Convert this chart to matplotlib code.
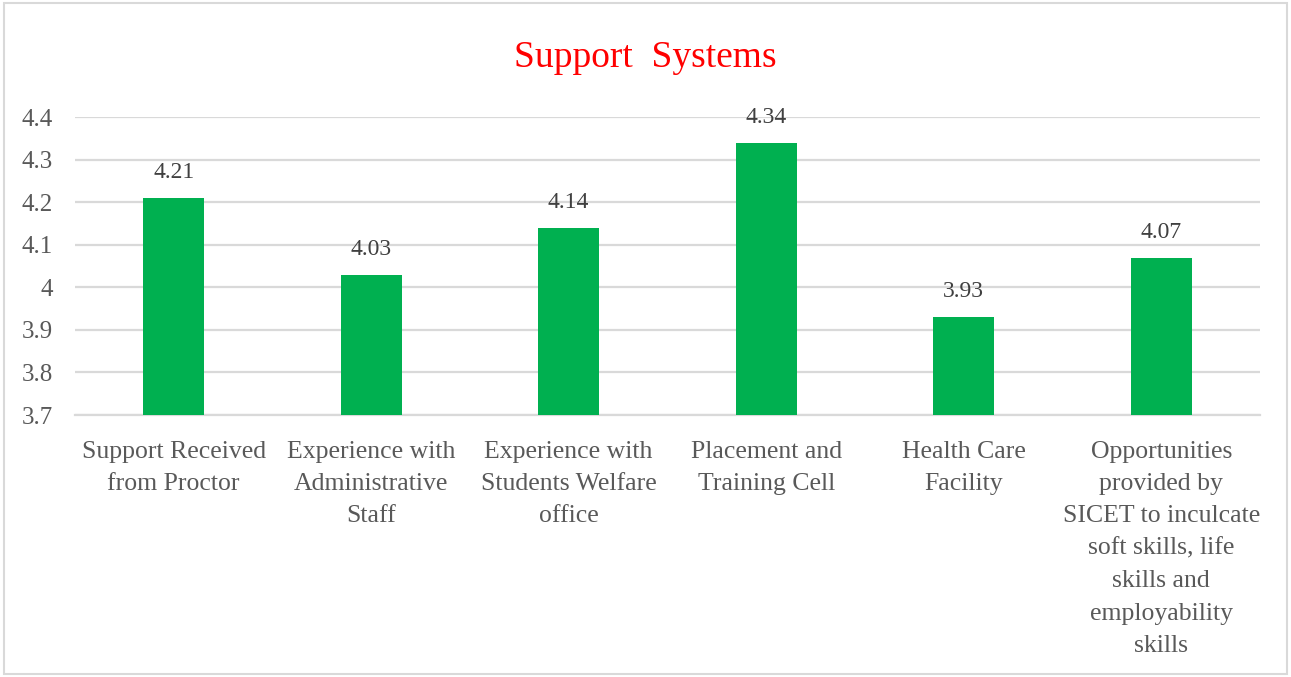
import matplotlib.pyplot as plt
from matplotlib.patches import Rectangle

# --- data ---
categories = [
    "Support Received\nfrom Proctor",
    "Experience with\nAdministrative\nStaff",
    "Experience with\nStudents Welfare\noffice",
    "Placement and\nTraining Cell",
    "Health Care\nFacility",
    "Opportunities\nprovided by\nSICET to inculcate\nsoft skills, life\nskills and\nemployability\nskills",
]
values = [4.21, 4.03, 4.14, 4.34, 3.93, 4.07]
yticks = [3.7, 3.8, 3.9, 4.0, 4.1, 4.2, 4.3, 4.4]
ytick_labels = ["3.7", "3.8", "3.9", "4", "4.1", "4.2", "4.3", "4.4"]

plt.rcParams["font.family"] = ["Liberation Serif", "DejaVu Serif"]

fig = plt.figure(figsize=(12.91, 6.77), dpi=100)
ax = fig.add_axes([0.058, 0.387, 0.918, 0.44])

x = list(range(len(values)))
ax.bar(x, values, width=0.31, color="#00b050", zorder=3)

for xi, v in zip(x, values):
    ax.text(xi, v + 0.035, f"{v:.2f}", ha="center", va="bottom",
            fontsize=17, color="#404040")

ax.set_ylim(3.7, 4.4)
ax.set_xlim(-0.5, len(values) - 0.5)
ax.set_yticks(yticks)
ax.set_yticklabels(ytick_labels, fontsize=18, color="#595959")
ax.yaxis.grid(True, color="#d9d9d9", linewidth=1.6, zorder=0)
ax.tick_params(axis="y", length=0, pad=16)

ax.set_xticks(x)
ax.set_xticklabels(categories, fontsize=18.5, color="#595959", linespacing=1.61)
ax.tick_params(axis="x", length=0, pad=18.5)

for side in ["top", "right", "left"]:
    ax.spines[side].set_visible(False)
ax.spines["bottom"].set_color("#d9d9d9")
ax.spines["bottom"].set_linewidth(1.6)

fig.text(0.5, 0.915, "Support  Systems", ha="center", va="center",
         fontsize=27, color="red")

# chart border
fig.patches.append(Rectangle((0.003, 0.005), 0.994, 0.99, transform=fig.transFigure,
                             fill=False, edgecolor="#d9d9d9", linewidth=1.5))

fig.savefig("out.png", dpi=100)
